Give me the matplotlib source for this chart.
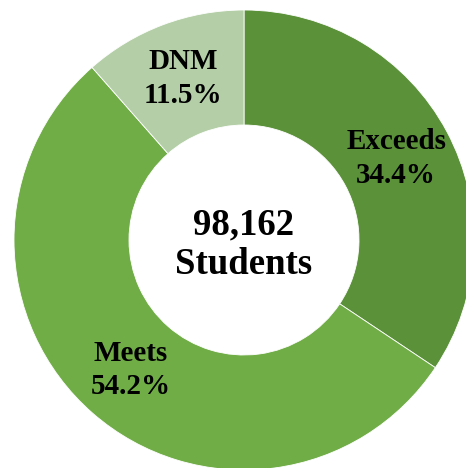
import numpy as np
import matplotlib.pyplot as plt

# Performance levels for the student population
categories = ['Exceeds', 'Meets', 'DNM']
shares = [34.4, 54.2, 11.5]  # percent
total_students = 98162
colors = ['#5b9139', '#70ad47', '#b4cfa7']

plt.rcParams['font.family'] = ['Liberation Serif', 'DejaVu Serif']

fig = plt.figure(figsize=(4.66, 4.68), dpi=100)
ax = fig.add_axes([0, 0, 1, 1])

cx, cy, R = 244, 240, 230
wedges, _ = ax.pie(shares, colors=colors, startangle=90, counterclock=False,
                   center=(cx, cy), radius=R, frame=True,
                   wedgeprops=dict(width=R * 0.5, edgecolor='white', linewidth=0.6))
# axis in pixel-like units, y pointing up, donut slightly clipped on right/bottom
ax.set_xlim(0, 466)
ax.set_ylim(cy - (468 - cy), 2 * cy)
ax.set_aspect('equal')
ax.axis('off')

# labels in the middle of the ring
for w, name, pct in zip(wedges, categories, shares):
    ang = np.deg2rad((w.theta1 + w.theta2) / 2)
    r = R * 0.75
    x = cx + r * np.cos(ang)
    y = cy + r * np.sin(ang)
    ax.text(x, y, f'{name}\n{pct:.1f}%', ha='center', va='center',
            fontsize=21, fontweight='bold', linespacing=1.3, color='black')

ax.text(cx, cy - 5, f'{total_students:,}\nStudents', ha='center', va='center',
        fontsize=26.5, fontweight='bold', linespacing=1.15, color='black')

fig.savefig('out.png', dpi=100)
